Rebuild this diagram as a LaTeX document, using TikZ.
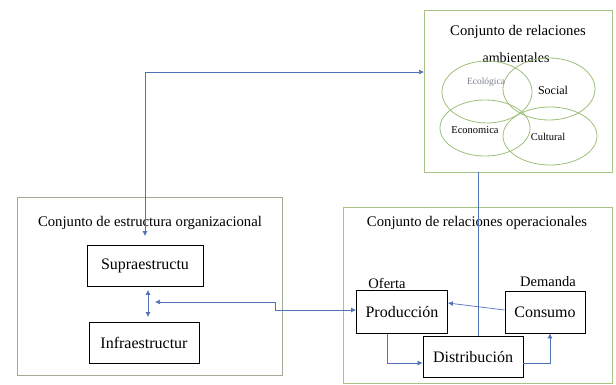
\documentclass[tikz,border=0pt]{standalone}
\usepackage{fontspec}
\setmainfont{Liberation Serif}
\usetikzlibrary{arrows.meta,calc}
\definecolor{bl}{HTML}{4F72B8}
\definecolor{grb}{HTML}{A8C282}
\definecolor{gre}{HTML}{9DBF7A}
\definecolor{grl}{HTML}{A3AA96}
\definecolor{ecog}{HTML}{7A8090}
\tikzset{
  cont/.style={draw=#1, line width=0.8pt, inner sep=0pt},
  inbox/.style={draw=black, line width=0.8pt, inner sep=0pt, font=\fontsize{16}{18}\selectfont},
  arr/.style={draw=bl, line width=0.7pt, -{Latex[length=5pt,width=5pt]}},
  darr/.style={draw=bl, line width=0.7pt, {Latex[length=5pt,width=5pt]}-{Latex[length=5pt,width=5pt]}},
  plain/.style={draw=bl, line width=0.7pt},
  ell/.style={draw=gre, line width=0.8pt},
  ttl/.style={font=\fontsize{14.7}{16}\selectfont, inner sep=0pt},
}
\begin{document}
\begin{tikzpicture}[x=1pt,y=-1pt]
\useasboundingbox (0,0) rectangle (616,385);
% containers
\node[cont=grb, minimum width=188pt, minimum height=162pt] (env) at (518,91) {};
\node[cont=grl, minimum width=265pt, minimum height=178pt] (org) at (149.5,286) {};
\node[cont=grb, minimum width=269pt, minimum height=176pt] (ops) at (477.5,295) {};
% titles
\node[ttl] (t1) at (518,32) {Conjunto de relaciones};
\node[ttl, font=\fontsize{14}{16}\selectfont] (t2) at (516,58) {ambientales};
\node[ttl] (t3) at (150,223) {Conjunto de estructura organizacional};
\node[ttl] (t4) at (477,223) {Conjunto de relaciones operacionales};
% ellipses
\draw[ell] (487,92) ellipse [x radius=45, y radius=31];
\draw[ell] (549,89) ellipse [x radius=46, y radius=31];
\draw[ell] (485,128) ellipse [x radius=45, y radius=28];
\draw[ell] (550,136) ellipse [x radius=47, y radius=29];
\node[inner sep=0pt, text=ecog, font=\fontsize{9.5}{11}\selectfont] (eco) at (486,82) {Ecológica};
\node[inner sep=0pt, font=\fontsize{12}{14}\selectfont] (soc) at (553,90) {Social};
\node[inner sep=0pt, font=\fontsize{10.5}{12}\selectfont] (econ) at (475,130) {Economica};
\node[inner sep=0pt, font=\fontsize{10.5}{12}\selectfont] (cul) at (548,137) {Cultural};
% inner boxes
\node[inbox, minimum width=116pt, minimum height=41pt] (supra) at (145,266) {Supraestructu};
\node[inbox, minimum width=110pt, minimum height=41pt] (infra) at (144,343) {Infraestructur};
\node[inbox, minimum width=91pt, minimum height=43pt] (prod) at (402,312) {Producción};
\node[inbox, minimum width=80pt, minimum height=42pt] (cons) at (545,312) {Consumo};
\node[inbox, minimum width=100pt, minimum height=41pt] (dist) at (473,357) {Distribución};
\node[ttl, font=\fontsize{14.5}{16}\selectfont] (of) at (387,283) {Oferta};
\node[ttl, font=\fontsize{14.5}{16}\selectfont] (de) at (548,282) {Demanda};
% connectors
\coordinate (envin) at (424,72);
\coordinate (mid) at (155,302);
\draw[darr, shorten <=9pt] (supra.north) |- (envin);
\draw[darr, shorten <=3pt, shorten >=5pt] ([xshift=3pt]supra.south) -- ([xshift=4pt]infra.north);
\draw[darr] ([yshift=2pt]prod.west) -- ++(-81,0) |- (mid);
\draw[arr] ([yshift=2pt]cons.west) -- ([yshift=9pt]prod.east);
\draw[arr] ([xshift=-15pt]prod.south) |- ([yshift=-6pt]dist.west);
\draw[arr] ([yshift=-6pt]dist.east) -| ([xshift=5pt]cons.south);
\draw[plain] ([xshift=-40pt]env.south) -- ([xshift=5pt]dist.north);
\end{tikzpicture}
\end{document}
